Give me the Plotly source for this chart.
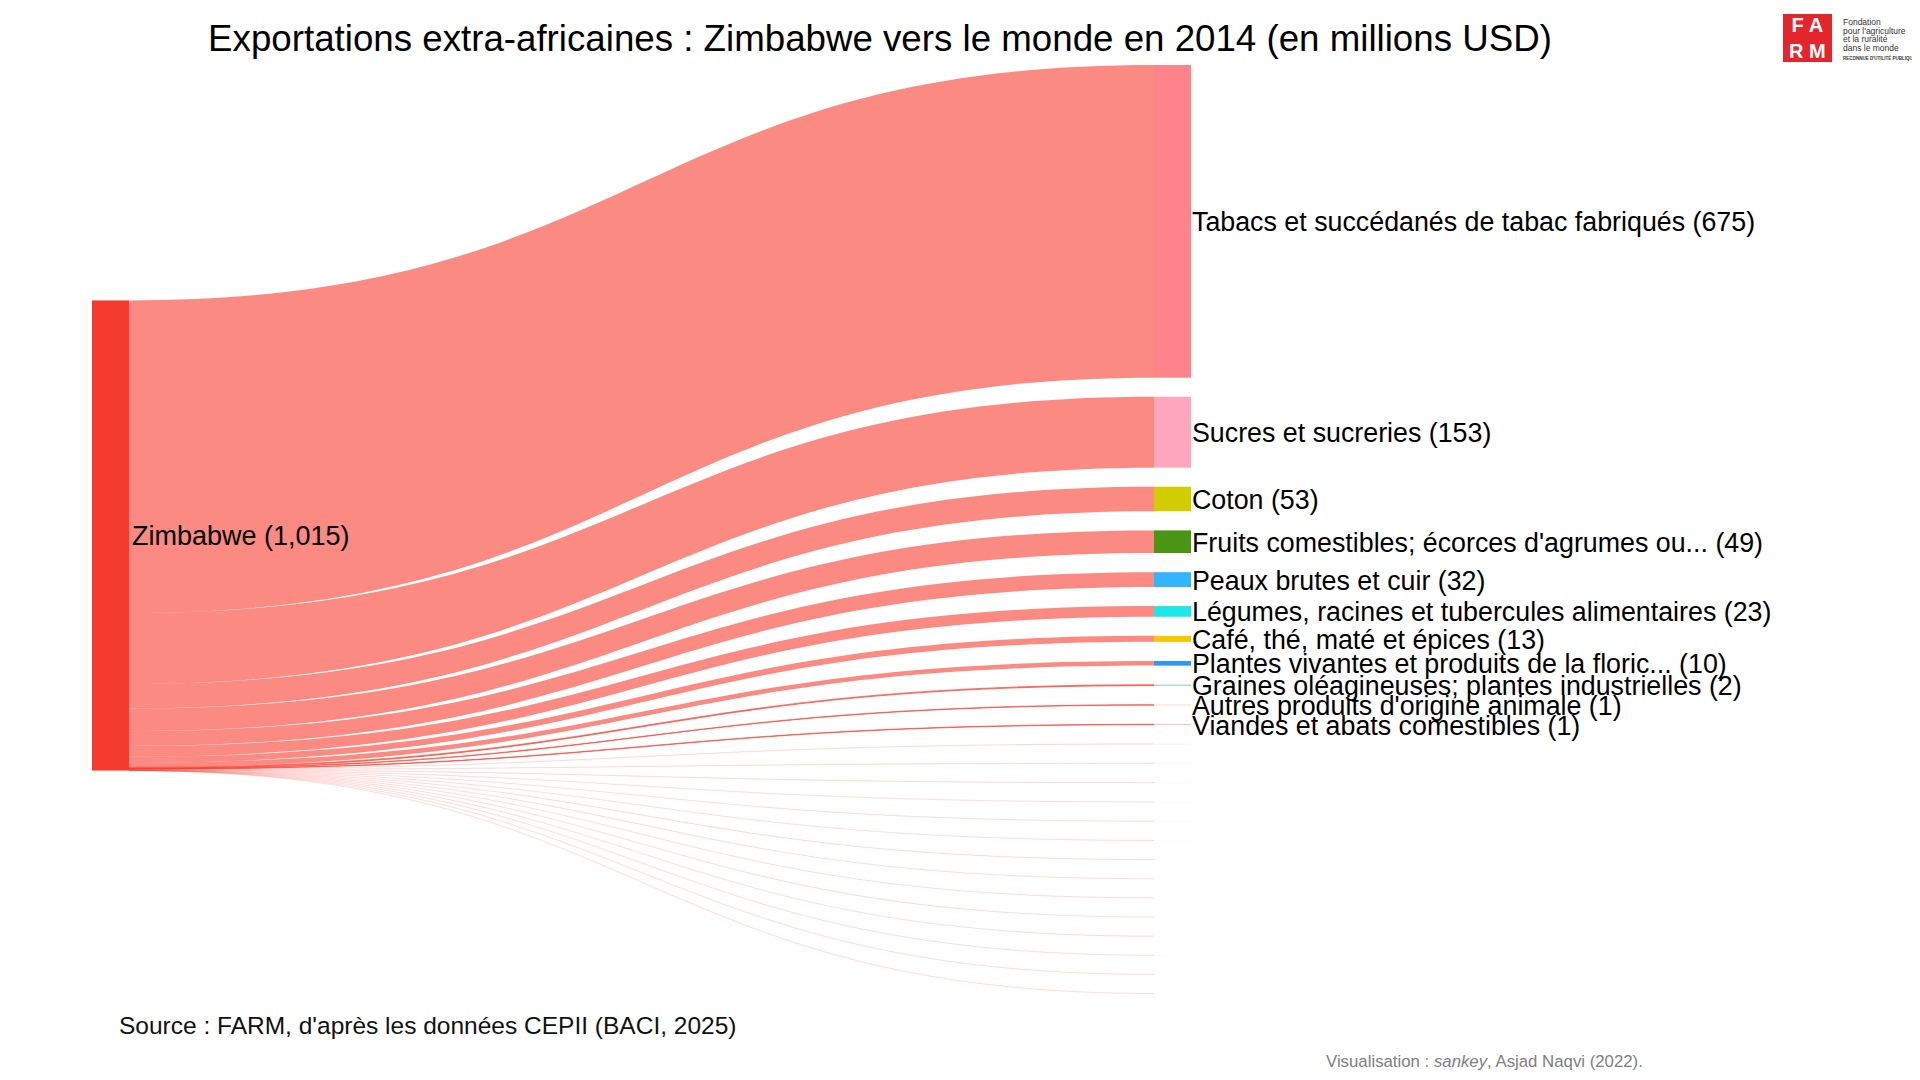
import plotly.graph_objects as go

W, H = 1920, 1080
OFF = 8  # marge par défaut de la page html


def fx(px):
    return (px - OFF) / W


def fy(py):
    return 1 - (py - OFF) / H


# données (millions USD)
source_name = "Zimbabwe"
source_total = 1015

products = [
    "Tabacs et succédanés de tabac fabriqués",
    "Sucres et sucreries",
    "Coton",
    "Fruits comestibles; écorces d'agrumes ou...",
    "Peaux brutes et cuir",
    "Légumes, racines et tubercules alimentaires",
    "Café, thé, maté et épices",
    "Plantes vivantes et produits de la floric...",
    "Graines oléagineuses; plantes industrielles",
    "Autres produits d'origine animale",
    "Viandes et abats comestibles",
]
values = [675, 153, 53, 49, 32, 23, 13, 10, 2, 1, 1]

# petits flux (< 1 million), sans étiquette sur le graphique
small_values = [0.6, 0.5, 0.4, 0.3, 0.3, 0.2, 0.2, 0.1, 0.1, 0.1, 0.1, 0.05, 0.03, 0.02]

source_color = "#f53b2f"
link_color = "rgba(248,60,46,0.6)"
small_link_color = "rgba(248,60,46,0.09)"
product_colors = [
    "#ff838b", "#ffa6bf", "#d2cd00", "#4a9614", "#33b4ff", "#1fe6e6",
    "#f5c800", "#2a96ff", "#86c99a", "#ffb585", "#ff8585",
]
small_colors = [
    "rgba(200,200,245,0.5)", "rgba(190,220,255,0.4)", "rgba(190,245,240,0.4)",
    "rgba(255,215,190,0.4)", "rgba(230,230,230,0.3)", "rgba(235,235,250,0.3)",
    "rgba(250,235,235,0.3)", "rgba(235,250,235,0.3)", "rgba(245,245,245,0.3)",
    "rgba(250,240,230,0.3)", "rgba(240,240,250,0.3)", "rgba(250,230,230,0.3)",
    "rgba(245,245,245,0.3)", "rgba(250,235,235,0.3)",
]

FONT = "Liberation Sans, Arial, sans-serif"

all_values = values + small_values
n_targets = len(all_values)

# géométrie du sankey (pixels de l'image)
left_px, right_px = 92, 1191
top_px = 65
thickness = 37
pad = 19.1
scale = 0.4632  # pixels par million USD
bottom_px = top_px + scale * sum(all_values) + (n_targets - 1) * pad
source_center_px = 535.5

node_labels = [f"{source_name} ({source_total:,})"] + [""] * n_targets
node_names = [source_name] + products + ["Autres"] * len(small_values)
node_colors = [source_color] + product_colors + small_colors

# seul le noeud source est placé à la main
node_x = [thickness / 2 / (right_px - left_px)] + [None] * n_targets
node_y = [(source_center_px - top_px) / (bottom_px - top_px)] + [None] * n_targets

fig = go.Figure(go.Sankey(
    arrangement="fixed",
    domain=dict(x=[fx(left_px), fx(right_px)], y=[fy(bottom_px), fy(top_px)]),
    node=dict(
        label=node_labels,
        customdata=node_names,
        hovertemplate="%{customdata}: %{value}<extra></extra>",
        color=node_colors,
        thickness=thickness,
        pad=pad,
        line=dict(width=0),
        x=node_x,
        y=node_y,
    ),
    link=dict(
        source=[0] * n_targets,
        target=list(range(1, n_targets + 1)),
        value=all_values,
        color=[link_color] * len(values) + [small_link_color] * len(small_values),
    ),
    textfont=dict(family=FONT, size=27, color="black", shadow="none"),
))

# étiquettes à droite des noeuds de destination
ky = (bottom_px - top_px - (n_targets - 1) * pad) / sum(all_values)
cum = 0
for i, (name, v) in enumerate(zip(products, values)):
    yc = top_px + ky * (cum + v / 2) + i * pad
    cum += v
    fig.add_annotation(
        x=fx(right_px - 1), y=fy(yc + 1), xref="paper", yref="paper",
        text=f"{name} ({v})", showarrow=False, xanchor="left", yanchor="middle",
        font=dict(family=FONT, size=26.8, color="black"),
    )

fig.add_annotation(
    x=fx(117), y=fy(1025), xref="paper", yref="paper",
    text="Source : FARM, d'après les données CEPII (BACI, 2025)",
    showarrow=False, xanchor="left", yanchor="middle",
    font=dict(family=FONT, size=24.5, color="#111111"),
)
fig.add_annotation(
    x=fx(1324), y=fy(1061), xref="paper", yref="paper",
    text="Visualisation : <i>sankey</i>, Asjad Naqvi (2022).",
    showarrow=False, xanchor="left", yanchor="middle",
    font=dict(family=FONT, size=16.8, color="#808080"),
)

# logo FARM
fig.add_shape(
    type="rect", xref="paper", yref="paper",
    x0=fx(1783), x1=fx(1832), y0=fy(62), y1=fy(14),
    fillcolor="#e4262c", line=dict(width=0),
)
fig.add_annotation(
    x=fx(1807.5), y=fy(38), xref="paper", yref="paper",
    text="<b>F A<br>R M</b>", showarrow=False, xanchor="center", yanchor="middle",
    font=dict(family=FONT, size=20, color="white"),
)
logo_lines = ["Fondation", "pour l'agriculture", "et la ruralité", "dans le monde"]
for k, line in enumerate(logo_lines):
    fig.add_annotation(
        x=fx(1841), y=fy(22 + k * 8.7), xref="paper", yref="paper",
        text=line, showarrow=False, xanchor="left", yanchor="middle",
        font=dict(family=FONT, size=8.5, color="#333333"),
    )
fig.add_annotation(
    x=fx(1841), y=fy(57), xref="paper", yref="paper",
    text="<b>RECONNUE D'UTILITÉ PUBLIQUE</b>", showarrow=False,
    xanchor="left", yanchor="middle",
    font=dict(family=FONT, size=4.5, color="#333333"),
)

fig.update_layout(
    title=dict(
        text="Exportations extra-africaines : Zimbabwe vers le monde en 2014 (en millions USD)",
        x=fx(880), xanchor="center", y=fy(38), yanchor="middle",
        font=dict(family=FONT, size=36.7, color="black"),
    ),
    width=W, height=H,
    margin=dict(l=0, r=0, t=0, b=0),
    paper_bgcolor="white",
    plot_bgcolor="white",
)

fig.write_html("out.html")
